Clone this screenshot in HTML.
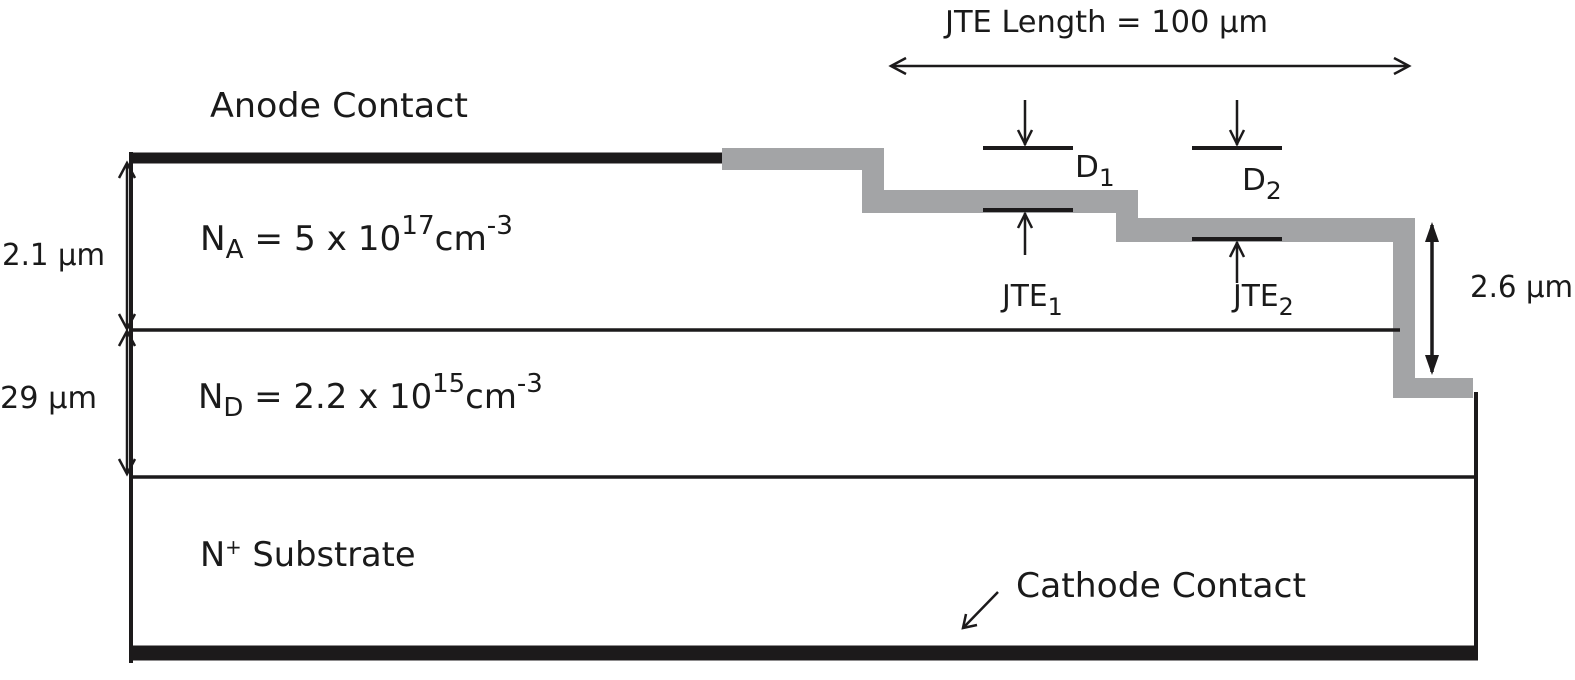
<!DOCTYPE html>
<html><head><meta charset="utf-8"><style>
html,body{margin:0;padding:0;background:#fff;}
svg{display:block;}
text{font-family:"DejaVu Sans Condensed","Liberation Sans",sans-serif;fill:#1a1a1a;}
</style></head><body>
<svg width="1575" height="680" viewBox="0 0 1575 680" xmlns="http://www.w3.org/2000/svg">
<g fill="#a3a4a6">
<rect x="722" y="148" width="162" height="22"/>
<rect x="862" y="148" width="22" height="64"/>
<rect x="862" y="190" width="276" height="23"/>
<rect x="1116" y="190" width="22" height="52"/>
<rect x="1116" y="218" width="299" height="24"/>
<rect x="1393" y="218" width="22" height="180"/>
<rect x="1393" y="378" width="80" height="20"/>
</g>
<g stroke="#1c1a1b" fill="none">
<line x1="131" y1="158" x2="722" y2="158" stroke-width="11"/>
<line x1="131" y1="152" x2="131" y2="663" stroke-width="4"/>
<line x1="131" y1="330" x2="1400" y2="330" stroke-width="3.5"/>
<line x1="131" y1="477" x2="1476" y2="477" stroke-width="3.5"/>
<line x1="1476" y1="392" x2="1476" y2="660" stroke-width="4"/>
<line x1="131" y1="653" x2="1478" y2="653" stroke-width="15"/>
<line x1="983" y1="148" x2="1073" y2="148" stroke-width="4"/>
<line x1="983" y1="210" x2="1073" y2="210" stroke-width="4"/>
<line x1="1192" y1="148" x2="1282" y2="148" stroke-width="4"/>
<line x1="1192" y1="239" x2="1282" y2="239" stroke-width="4"/>
<g stroke-width="2.5">
<line x1="1025" y1="100" x2="1025" y2="145"/><polyline points="1018,130 1025,144 1032,130"/>
<line x1="1025" y1="255" x2="1025" y2="213"/><polyline points="1018,228 1025,214 1032,228"/>
<line x1="1237" y1="100" x2="1237" y2="145"/><polyline points="1230,130 1237,144 1244,130"/>
<line x1="1237" y1="283" x2="1237" y2="242"/><polyline points="1230,257 1237,243 1244,257"/>
<line x1="892" y1="66" x2="1408" y2="66"/><polyline points="906,58 891,66 906,74"/><polyline points="1394,58 1409,66 1394,74"/>
<line x1="998" y1="592" x2="964" y2="627"/><polyline points="966,614 963,628 977,625"/>
<line x1="127" y1="163" x2="127" y2="328"/><polyline points="119,178 127,163 135,178"/><polyline points="119,314 127,329 135,314"/>
<line x1="127" y1="332" x2="127" y2="473"/><polyline points="119,346 127,331 135,346"/><polyline points="119,459 127,474 135,459"/>
</g>
<line x1="1432" y1="225" x2="1432" y2="372" stroke-width="3.5"/>
</g>
<polygon points="1425,242 1432,222 1439,242" fill="#1c1a1b"/>
<polygon points="1425,355 1432,375 1439,355" fill="#1c1a1b"/>
<text x="210" y="117" font-size="34" textLength="258" lengthAdjust="spacingAndGlyphs">Anode Contact</text>
<text x="945" y="32" font-size="30" textLength="323" lengthAdjust="spacingAndGlyphs">JTE  Length = 100 µm</text>
<g transform="translate(1075,0) scale(1.15,1) translate(-1075,0)"><text x="1075" y="177" font-size="30">D<tspan font-size="24" dy="9">1</tspan></text></g>
<g transform="translate(1242,0) scale(1.15,1) translate(-1242,0)"><text x="1242" y="190" font-size="30">D<tspan font-size="24" dy="9">2</tspan></text></g>
<g transform="translate(1002,0) scale(1.1,1) translate(-1002,0)"><text x="1002" y="306" font-size="30">JTE<tspan font-size="24" dy="9">1</tspan></text></g>
<g transform="translate(1233,0) scale(1.1,1) translate(-1233,0)"><text x="1233" y="306" font-size="30">JTE<tspan font-size="24" dy="9">2</tspan></text></g>
<text x="1470" y="297" font-size="30" textLength="103" lengthAdjust="spacingAndGlyphs">2.6 µm</text>
<text x="2" y="265" font-size="30" textLength="103" lengthAdjust="spacingAndGlyphs">2.1 µm</text>
<text x="0" y="408" font-size="30" textLength="97" lengthAdjust="spacingAndGlyphs">29 µm</text>
<g transform="translate(200,0) scale(1.12,1) translate(-200,0)"><text x="200" y="250" font-size="34">N<tspan font-size="26" dy="8">A</tspan><tspan dy="-8"> = 5 x 10</tspan><tspan font-size="26" dy="-16">17</tspan><tspan dy="16">cm</tspan><tspan font-size="26" dy="-16">-3</tspan></text></g>
<g transform="translate(198,0) scale(1.11,1) translate(-198,0)"><text x="198" y="408" font-size="34">N<tspan font-size="26" dy="8">D</tspan><tspan dy="-8"> = 2.2 x 10</tspan><tspan font-size="26" dy="-16">15</tspan><tspan dy="16">cm</tspan><tspan font-size="26" dy="-16">-3</tspan></text></g>
<g transform="translate(200,0) scale(1.1,1) translate(-200,0)"><text x="200" y="566" font-size="34">N<tspan font-size="20" dy="-12">+</tspan><tspan dy="12"> Substrate</tspan></text></g>
<text x="1016" y="597" font-size="34" textLength="290" lengthAdjust="spacingAndGlyphs">Cathode Contact</text>
</svg>
</body></html>
